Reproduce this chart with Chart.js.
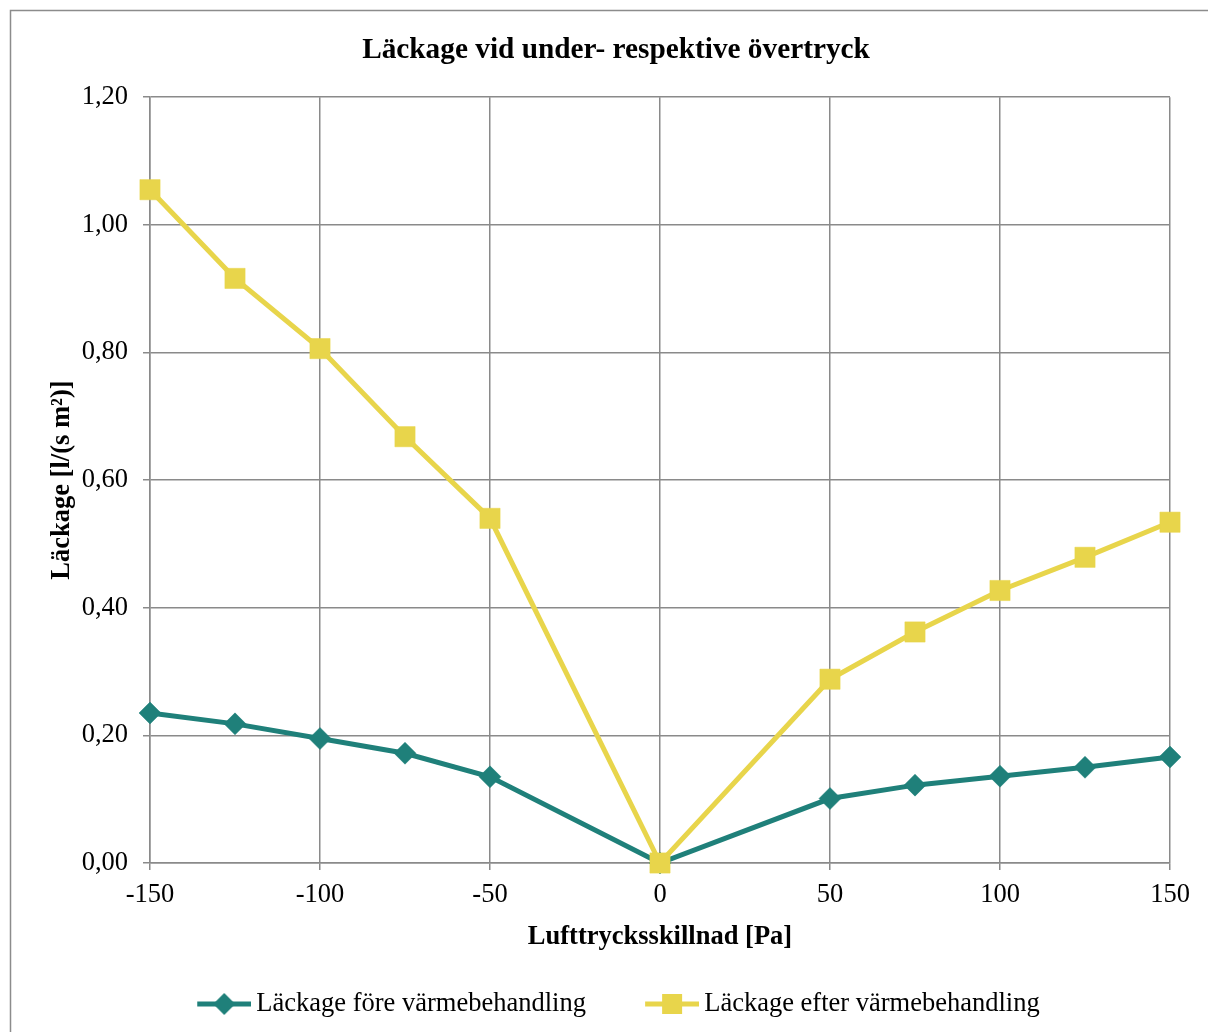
<!DOCTYPE html>
<html><head><meta charset="utf-8">
<script src="https://cdn.jsdelivr.net/npm/chart.js@4/dist/chart.umd.min.js"></script>
<style>html,body{margin:0;padding:0;background:#fff}#wrap{width:1208px;height:1032px;position:relative}</style>
</head><body><div id="wrap"><canvas id="c" width="1208" height="1032"></canvas></div>
<script>
const pressure = [-150, -125, -100, -75, -50, 0, 50, 75, 100, 125, 150];
const leakBefore = [0.235, 0.218, 0.195, 0.172, 0.135, 0.0, 0.101, 0.122, 0.136, 0.150, 0.166];
const leakAfter = [1.055, 0.916, 0.806, 0.668, 0.540, 0.0, 0.288, 0.362, 0.427, 0.479, 0.534];
const seriesNames = ['Läckage före värmebehandling', 'Läckage efter värmebehandling'];
const chartTitle = 'Läckage vid under- respektive övertryck';
const xTitle = 'Lufttrycksskillnad [Pa]';
const yTitle = 'Läckage [l/(s m²)]';
const xMin = -150, xMax = 150, xStep = 50;
const yMin = 0, yMax = 1.2, yStep = 0.2;

const TEAL = '#1f807a';
const YELLOW = '#e8d54b';
const GRID = '#8a8a8a';
const SERIF = "'Liberation Serif', 'Times New Roman', serif";

function legendImage(color, style) {
  const cv = document.createElement('canvas');
  cv.width = 67; cv.height = 26;
  const g = cv.getContext('2d');
  g.strokeStyle = color; g.lineWidth = 5; g.lineCap = 'butt';
  g.beginPath(); g.moveTo(13, 13); g.lineTo(67, 13); g.stroke();
  g.fillStyle = color;
  g.beginPath();
  if (style === 'diamond') {
    g.moveTo(40, 2); g.lineTo(51, 13); g.lineTo(40, 24); g.lineTo(29, 13);
  } else {
    g.rect(30, 3, 20, 20);
  }
  g.closePath(); g.fill();
  return cv;
}
const legendImgs = [legendImage(TEAL, 'diamond'), legendImage(YELLOW, 'square')];

const frame = {
  id: 'frame',
  beforeDraw(chart) {
    const ctx = chart.ctx;
    ctx.save();
    ctx.fillStyle = '#fff';
    ctx.fillRect(0, 0, chart.width, chart.height);
    ctx.strokeStyle = '#8c8c8c';
    ctx.lineWidth = 1.5;
    ctx.strokeRect(10.5, 10.5, 1400, 1400);
    ctx.restore();
  }
};

new Chart(document.getElementById('c'), {
  type: 'line',
  data: {
    labels: pressure,
    datasets: [
      {
        label: seriesNames[0], order: 1,
        data: pressure.map((p, i) => ({x: p, y: leakBefore[i]})),
        borderColor: TEAL, backgroundColor: TEAL, clip: false,
        borderWidth: 5, pointStyle: 'rectRot', pointRadius: 11, pointBorderWidth: 0.5,
        pointBackgroundColor: TEAL, pointBorderColor: TEAL, tension: 0
      },
      {
        label: seriesNames[1], order: 0,
        data: pressure.map((p, i) => ({x: p, y: leakAfter[i]})),
        borderColor: YELLOW, backgroundColor: YELLOW, clip: false,
        borderWidth: 5, pointStyle: 'rect', pointRadius: 14.3, pointBorderWidth: 0.5,
        pointBackgroundColor: YELLOW, pointBorderColor: YELLOW, tension: 0
      }
    ]
  },
  options: {
    responsive: false,
    animation: false,
    devicePixelRatio: 1,
    layout: { padding: { left: 62, right: 38, top: 0, bottom: 4.75 } },
    plugins: {
      tooltip: { enabled: false },
      title: {
        display: true, text: chartTitle, color: '#000',
        font: { family: SERIF, size: 29.3, weight: 'bold', lineHeight: 1.2 },
        padding: { top: 32.6, bottom: 29.4 }
      },
      legend: {
        display: true, position: 'bottom', align: 'center',
        labels: {
          usePointStyle: true, pointStyleWidth: 50.75, padding: 54.25,
          color: '#000',
          font: { family: SERIF, size: 26.5 },
          generateLabels(chart) {
            const items = Chart.defaults.plugins.legend.labels.generateLabels(chart);
            items.sort((a, b) => a.datasetIndex - b.datasetIndex);
            items.forEach(it => { it.pointStyle = legendImgs[it.datasetIndex]; });
            return items;
          }
        }
      }
    },
    scales: {
      x: {
        type: 'linear', min: xMin, max: xMax,
        afterFit(s) { s.height = 73.5; },
        ticks: { stepSize: xStep, color: '#000', padding: 9, font: { family: SERIF, size: 26.5 } },
        grid: { color: GRID, lineWidth: 1.5, tickLength: 7, drawTicks: true },
        border: { color: GRID, width: 1.5 },
        title: {
          display: true, text: xTitle, color: '#000',
          font: { family: SERIF, size: 26.5, weight: 'bold', lineHeight: 1.2 },
          padding: { top: 0, bottom: -16.4 }
        }
      },
      y: {
        type: 'linear', min: yMin, max: yMax,
        afterFit(s) { s.width = 88; },
        ticks: {
          stepSize: yStep, color: '#000', padding: 15,
          font: { family: SERIF, size: 26.5 },
          callback: v => v.toFixed(2).replace('.', ',')
        },
        grid: { color: GRID, lineWidth: 1.5, tickLength: 7, drawTicks: true },
        border: { color: GRID, width: 1.5 },
        title: {
          display: true, text: yTitle, color: '#000',
          font: { family: SERIF, size: 26.5, weight: 'bold', lineHeight: 1.2 },
          padding: { top: -15.9, bottom: 0 }
        }
      }
    }
  },
  plugins: [frame]
});
</script>
</body></html>
